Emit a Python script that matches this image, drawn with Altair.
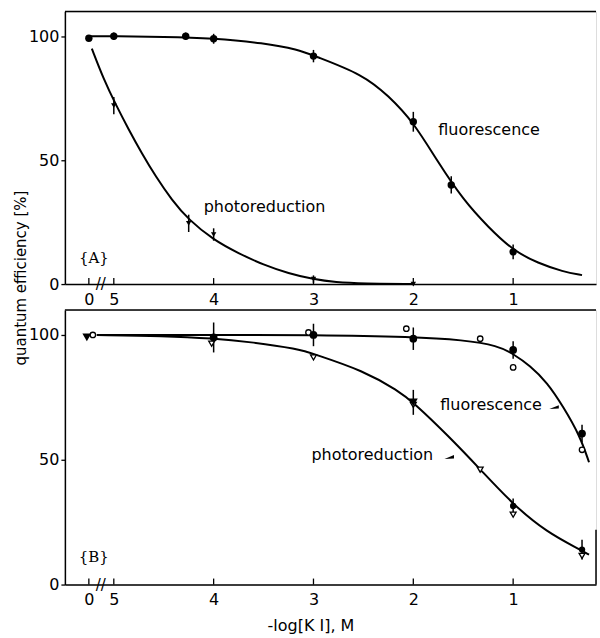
import altair as alt
import pandas as pd

# x is -log[KI] (axis runs from high to low); 5.25 marks the KI-free sample, labelled "0"
ZERO_POS = 5.25

# ---- panel A: measured points ----
fa_x = [5.25, 5.0, 4.28, 4.0, 3.0, 2.0, 1.62, 1.0]
fa_y = [99.2, 100, 100, 99, 92, 65.5, 40, 13]
fa_err = [0, 1.5, 1.5, 2, 2.5, 4, 3.5, 3]

pa_x = [5.0, 4.25, 4.0, 3.0, 2.0]
pa_y = [72, 24.5, 20, 2, 0]
pa_err = [3.5, 3.5, 2.5, 1.5, 0]

# ---- panel A: fitted curves ----
fa_cx = [5.24, 5.0, 4.5, 4.0, 3.5, 3.15, 3.0, 2.5, 2.25, 2.0, 1.75, 1.5, 1.25, 1.0, 0.75, 0.5, 0.31]
fa_cy = [100, 100, 99.8, 99.2, 97.3, 94.6, 92.2, 84.5, 76, 65.5, 49, 34, 23, 13.5, 8.4, 5, 3.6]

pa_cx = [5.22, 5.10, 4.98, 4.85, 4.72, 4.58, 4.42, 4.25, 4.0, 3.75, 3.5, 3.25, 3.0, 2.78, 2.5, 2.0]
pa_cy = [95, 82.5, 72.4, 62.3, 52.8, 43.4, 34, 25.9, 17.8, 12.4, 7.7, 4.3, 1.9, 0.7, 0.2, 0]

# ---- panel B: measured points ----
fb_fill_x = [4.0, 3.0, 2.0, 1.0, 0.31]
fb_fill_y = [99, 100, 98.5, 94, 60.5]
fb_fill_err = [6, 4.5, 4.5, 3.5, 3.5]

fb_open_x = [5.21, 3.05, 2.07, 1.33, 1.0, 0.31]
fb_open_y = [100, 101, 102.5, 98.5, 87, 54]

pb_tri_x = [5.27, 2.0]
pb_tri_y = [99, 73]
pb_tri_err = [0, 5]

pb_dot_x = [1.0, 0.31]
pb_dot_y = [31.5, 14]
pb_dot_err = [3, 4]

pb_open_x = [4.02, 3.0, 2.0, 1.33, 1.0, 0.31]
pb_open_y = [96.5, 91, 72, 46, 28, 11.5]

# ---- panel B: fitted curves ----
fb_cx = [5.17, 4.0, 3.0, 2.0, 1.5, 1.15, 1.0, 0.83, 0.66, 0.5, 0.33, 0.24]
fb_cy = [100, 100, 100, 99.3, 98, 95.7, 92.4, 87.7, 81, 71.4, 59.5, 49]

pb_cx = [5.17, 4.5, 4.0, 3.65, 3.15, 3.0, 2.5, 2.15, 2.0, 1.65, 1.33, 1.0, 0.66, 0.33, 0.24]
pb_cy = [100, 99.6, 98.6, 97.3, 94.4, 92.4, 85.7, 77.6, 73, 59.6, 46.2, 32, 20.9, 14, 12]

# x tick positions
tick_vals = [ZERO_POS, 5, 4, 3, 2, 1]

Y_TITLE = "quantum efficiency [%]"
X_TITLE = "-log[K I], M"

W = 532
HA = 273
HB = 275
FONT = "DejaVu Sans"

xscale = alt.Scale(domain=[0.17, 5.49], reverse=True, nice=False, zero=False)
yscale = alt.Scale(domain=[0, 110], nice=False)

XAXIS_COMMON = dict(values=tick_vals,
                    labelExpr="datum.value == 5.25 ? '0' : format(datum.value, 'd')",
                    ticks=False, grid=False, domainColor="black", domainWidth=1.5,
                    labelFont=FONT, labelFontSize=16, labelColor="black", labelPadding=7)
YAXIS_COMMON = dict(values=[0, 50, 100], grid=False, domainColor="black", domainWidth=1.5,
                    tickColor="black", tickSize=4, tickWidth=1.3, labelFont=FONT,
                    labelFontSize=16, labelColor="black", labelPadding=2)

xaxis_a = alt.Axis(title=None, **XAXIS_COMMON)
yaxis_a = alt.Axis(title=None, **YAXIS_COMMON)
xaxis_b = alt.Axis(title=X_TITLE, titleFont=FONT, titleFontSize=16,
                   titleFontWeight="normal", titleColor="black", titlePadding=10,
                   titleX=246, **XAXIS_COMMON)
yaxis_b = alt.Axis(title=None, **YAXIS_COMMON)


def curve(xs, ys, xa, ya):
    df = pd.DataFrame({"x": xs, "y": ys})
    return alt.Chart(df).mark_line(color="black", strokeWidth=2, interpolate="basis").encode(
        x=alt.X("x:Q", scale=xscale, axis=xa), y=alt.Y("y:Q", scale=yscale, axis=ya))


def errbars(xs, ys, errs):
    df = pd.DataFrame({"x": xs, "y": ys, "err": errs})
    df = df[df["err"] > 0]
    return alt.Chart(df).transform_calculate(
        lo="datum.y - datum.err", hi="datum.y + datum.err"
    ).mark_rule(color="black", strokeWidth=1.5).encode(
        x=alt.X("x:Q", scale=xscale), y=alt.Y("lo:Q", scale=yscale), y2="hi:Q")


def pts(xs, ys, shape, size, open_=False):
    df = pd.DataFrame({"x": xs, "y": ys})
    if open_:
        m = alt.Chart(df).mark_point(shape=shape, size=size, filled=True, fill="white",
                                     stroke="black", strokeWidth=1.3, opacity=1)
    else:
        m = alt.Chart(df).mark_point(shape=shape, size=size, filled=True, color="black",
                                     opacity=1)
    return m.encode(x=alt.X("x:Q", scale=xscale), y=alt.Y("y:Q", scale=yscale))


def label(x, y, text, size=16, font=FONT, align="left"):
    df = pd.DataFrame({"x": [x], "y": [y], "t": [text]})
    return alt.Chart(df).mark_text(font=font, fontSize=size, color="black", align=align,
                                   baseline="middle").encode(
        x=alt.X("x:Q", scale=xscale), y=alt.Y("y:Q", scale=yscale), text="t:N")


def inward_ticks(h):
    df = pd.DataFrame({"x": tick_vals})
    return alt.Chart(df).mark_rule(color="black", strokeWidth=1.3).encode(
        x=alt.X("x:Q", scale=xscale), y=alt.value(h), y2=alt.value(h - 6))


def top_border():
    return alt.Chart(pd.DataFrame({"a": [0]})).mark_rule(color="black", strokeWidth=1.5).encode(
        x=alt.value(0), x2=alt.value(W), y=alt.value(0))


def axis_break():
    return label(5.13, 0, "//", size=15, align="center")


wedge = "M-1,0.45 L1,-0.35 L1,0.35 Z"


def arrow_head(x, y):
    df = pd.DataFrame({"x": [x], "y": [y]})
    return alt.Chart(df).mark_point(shape=wedge, size=90, filled=True, color="black",
                                    opacity=1).encode(
        x=alt.X("x:Q", scale=xscale), y=alt.Y("y:Q", scale=yscale))


# shared vertical title, drawn beside panel A and centred on the gap between panels
y_title = alt.Chart(pd.DataFrame({"t": [Y_TITLE]})).mark_text(
    font=FONT, fontSize=15, color="black", angle=270, align="center", baseline="middle"
).encode(x=alt.value(-44), y=alt.value(267), text="t:N")

# ---------------- panel A ----------------
panel_a = alt.layer(
    curve(fa_cx, fa_cy, xaxis_a, yaxis_a),
    curve(pa_cx, pa_cy, xaxis_a, yaxis_a),
    errbars(fa_x, fa_y, fa_err),
    errbars(pa_x, pa_y, pa_err),
    pts(fa_x, fa_y, "circle", 55),
    pts(pa_x, pa_y, "triangle-down", 30),
    label(1.75, 62.3, "fluorescence"),
    label(4.10, 31.1, "photoreduction"),
    label(5.20, 10.5, "{A}", size=15, font="DejaVu Serif", align="center"),
    inward_ticks(HA),
    top_border(),
    axis_break(),
    y_title,
).properties(width=W, height=HA)

# ---------------- panel B ----------------
panel_b = alt.layer(
    curve(fb_cx, fb_cy, xaxis_b, yaxis_b),
    curve(pb_cx, pb_cy, xaxis_b, yaxis_b),
    errbars(fb_fill_x, fb_fill_y, fb_fill_err),
    errbars(pb_tri_x, pb_tri_y, pb_tri_err),
    errbars(pb_dot_x, pb_dot_y, pb_dot_err),
    pts(fb_open_x, fb_open_y, "circle", 30, open_=True),
    pts(pb_open_x, pb_open_y, "triangle-down", 35, open_=True),
    pts(fb_fill_x, fb_fill_y, "circle", 60),
    pts(pb_tri_x, pb_tri_y, "triangle-down", 80),
    pts(pb_dot_x, pb_dot_y, "circle", 40),
    label(1.73, 72, "fluorescence"),
    label(3.02, 52, "photoreduction"),
    arrow_head(0.59, 71.2),
    arrow_head(1.64, 51.2),
    label(5.20, 11.2, "{B}", size=15, font="DejaVu Serif", align="center"),
    inward_ticks(HB),
    top_border(),
    alt.Chart(pd.DataFrame({"a": [0]})).mark_rule(color="black", strokeWidth=1.5).encode(
        x=alt.value(W), y=alt.value(HB), y2=alt.value(HB - 55)),
    axis_break(),
).properties(width=W, height=HB)

chart = alt.vconcat(panel_a, panel_b, spacing=26, bounds="flush").properties(
    padding={"left": 13, "top": 9, "right": 2, "bottom": 2}
).configure_view(stroke=None).configure(background="white")

chart.save("out.html", embed_options={"renderer": "svg", "actions": False})
